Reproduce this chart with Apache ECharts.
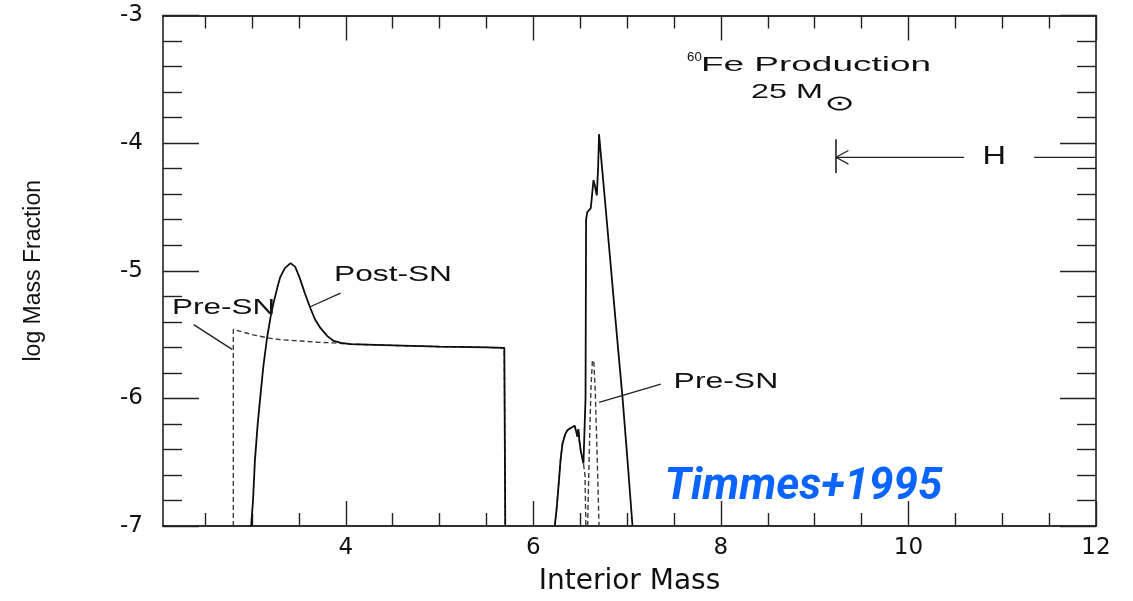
<!DOCTYPE html>
<html>
<head>
<meta charset="utf-8">
<title>60Fe Production, 25 Msun</title>
<script src="https://cdn.jsdelivr.net/npm/echarts@6/dist/echarts.min.js"></script>
<style>
  html, body { margin: 0; padding: 0; background: #ffffff; }
  #chart { width: 1133px; height: 601px; }
</style>
</head>
<body>
<div id="chart"></div>
<script>
// ---- Data: log mass fraction of 60Fe versus interior mass ----

// Post-SN profile (solid), inner shell region
const postSN_inner = [
  [2.99, -7.0], [3.01, -6.8], [3.03, -6.49], [3.06, -6.2], [3.09, -5.97],
  [3.12, -5.75], [3.16, -5.525], [3.20, -5.35], [3.23, -5.25], [3.27, -5.13],
  [3.30, -5.05], [3.35, -4.98], [3.41, -4.94], [3.46, -4.97], [3.51, -5.06],
  [3.56, -5.17], [3.62, -5.29], [3.67, -5.38], [3.73, -5.45], [3.80, -5.51],
  [3.87, -5.55], [3.95, -5.565], [4.05, -5.575], [4.5, -5.585], [5.0, -5.595],
  [5.5, -5.60], [5.69, -5.605], [5.70, -7.0]
];

// Post-SN profile (solid), outer shell region
const postSN_outer = [
  [6.228, -7.0], [6.25, -6.85], [6.273, -6.64], [6.29, -6.48], [6.31, -6.356],
  [6.34, -6.28], [6.363, -6.25], [6.39, -6.235], [6.416, -6.225], [6.44, -6.215],
  [6.451, -6.212], [6.46, -6.27], [6.47, -6.30], [6.48, -6.24], [6.49, -6.33],
  [6.504, -6.407], [6.534, -6.511], [6.55, -6.52], [6.556, -6.0], [6.562, -4.6],
  [6.575, -4.54], [6.612, -4.51], [6.641, -4.29], [6.655, -4.33], [6.676, -4.41],
  [6.69, -4.2], [6.70, -3.93], [6.76, -4.42], [6.82, -4.92], [6.88, -5.42],
  [6.95, -5.99], [7.00, -6.45], [7.057, -7.0]
];

// Pre-SN profile (dashed), inner shell region
const preSN_inner = [
  [2.80, -7.0], [2.80, -5.46], [2.9, -5.48], [3.0, -5.50], [3.16, -5.525],
  [3.3, -5.54], [3.52, -5.55], [3.7, -5.56], [3.87, -5.565], [4.05, -5.575],
  [4.5, -5.585], [5.0, -5.595], [5.5, -5.60], [5.69, -5.605], [5.70, -7.0]
];

// Pre-SN profile (dashed), outer shell region: shoulder, then a narrow peak
const preSN_outerShoulder = [
  [6.228, -7.0], [6.25, -6.85], [6.273, -6.64], [6.29, -6.48], [6.31, -6.356],
  [6.34, -6.28], [6.363, -6.25], [6.39, -6.235], [6.416, -6.225], [6.44, -6.215],
  [6.451, -6.212], [6.46, -6.27], [6.47, -6.30], [6.48, -6.24], [6.49, -6.33],
  [6.504, -6.407], [6.534, -6.511], [6.55, -6.6], [6.56, -7.0]
];
const preSN_outerPeak = [
  [6.578, -7.0], [6.60, -6.3], [6.615, -5.9], [6.63, -5.70], [6.645, -5.72],
  [6.66, -5.95], [6.68, -6.45], [6.70, -7.0]
];

// Axis ticks and labels
const xMajorTicks = [4, 6, 8, 10, 12];
const xMinorTicks = [2.5, 3, 3.5, 4.5, 5, 5.5, 6.5, 7, 7.5, 8.5, 9, 9.5, 10.5, 11, 11.5];
const yTickLabels = [-7, -6, -5, -4, -3];

// Annotation leader lines and the hydrogen-shell marker, in data units
const leaderPostSN = [[3.943, -5.175], [3.615, -5.284]];
const leaderPreSNLeft = [[2.377, -5.422], [2.787, -5.616]];
const leaderPreSNRight = [[7.359, -5.889], [6.700, -6.031]];
const hShellBar = [[9.227, -3.97], [9.227, -4.235]];
const hShellArrow = [[10.594, -4.111], [9.227, -4.111]];
const hShellArrowHead = [[9.36, -4.058], [9.227, -4.111], [9.36, -4.164]];
const hShellTail = [[11.34, -4.111], [12.0, -4.111]];

// ---- Chart ----
const X_MIN = 2.05, X_MAX = 12;
const Y_MIN = yTickLabels[0], Y_MAX = yTickLabels[yTickLabels.length - 1];
const AXIS_COLOR = '#222222';
const TEXT_COLOR = '#111111';

const chart = echarts.init(document.getElementById('chart'), null, { renderer: 'canvas' });

function xAxisDef(position, ticks, tickLen, withLabels) {
  return {
    type: 'value', min: X_MIN, max: X_MAX, position: position,
    axisLine: { show: true, onZero: false, lineStyle: { color: AXIS_COLOR, width: 1.6 } },
    axisTick: { show: true, inside: true, length: tickLen, customValues: ticks,
                lineStyle: { color: AXIS_COLOR, width: 1.4 } },
    axisLabel: withLabels ? {
      show: true, customValues: xMajorTicks, margin: 11,
      fontFamily: 'DejaVu Sans', fontSize: 23, color: TEXT_COLOR
    } : { show: false },
    splitLine: { show: false },
    minorTick: { show: false }
  };
}

function yAxisDef(position, withLabels) {
  return {
    type: 'value', min: Y_MIN, max: Y_MAX, interval: 1, position: position,
    axisLine: { show: true, onZero: false, lineStyle: { color: AXIS_COLOR, width: 1.6 } },
    axisTick: { show: true, inside: true, length: 36, lineStyle: { color: AXIS_COLOR, width: 1.4 } },
    minorTick: { show: true, splitNumber: 5, length: 19, lineStyle: { color: AXIS_COLOR, width: 1.4 } },
    axisLabel: withLabels ? {
      show: true, margin: 20, fontFamily: 'DejaVu Sans', fontSize: 23, color: TEXT_COLOR
    } : { show: false },
    splitLine: { show: false }
  };
}

const xAxes = [
  Object.assign(xAxisDef('bottom', xMajorTicks, 25, true), {
    name: 'Interior Mass', nameLocation: 'middle', nameGap: 42,
    nameTextStyle: { fontFamily: 'DejaVu Sans', fontSize: 28, color: TEXT_COLOR }
  }),
  xAxisDef('bottom', xMinorTicks, 13, false),
  xAxisDef('top', xMajorTicks, 25, false),
  xAxisDef('top', xMinorTicks, 13, false)
];

const yAxes = [
  Object.assign(yAxisDef('left', true), {
    name: 'log Mass Fraction', nameLocation: 'middle', nameGap: 118, nameRotate: 90,
    nameTextStyle: { fontFamily: 'Liberation Sans', fontSize: 23, color: TEXT_COLOR }
  }),
  yAxisDef('right', false)
];

function curve(name, data, style) {
  return {
    name: name, type: 'line', xAxisIndex: 0, yAxisIndex: 0,
    data: data, showSymbol: false, symbol: 'none', smooth: false,
    clip: true, silent: true, lineStyle: style, z: 3
  };
}

const preStyle = { color: '#3a3a3a', width: 1.4, type: [5, 3] };
const postStyle = { color: '#0d0d0d', width: 1.8, type: 'solid' };
const thinStyle = { color: '#222', width: 1.3, type: 'solid' };

const series = [
  curve('Pre-SN', preSN_inner, preStyle),
  curve('Pre-SN', preSN_outerShoulder, preStyle),
  curve('Pre-SN', preSN_outerPeak, preStyle),
  curve('Post-SN', postSN_inner, postStyle),
  curve('Post-SN', postSN_outer, postStyle),
  curve('leader', leaderPostSN, thinStyle),
  curve('leader', leaderPreSNLeft, thinStyle),
  curve('leader', leaderPreSNRight, thinStyle),
  curve('H shell', hShellBar, { color: '#222', width: 1.6 }),
  curve('H shell', hShellArrow, thinStyle),
  curve('H shell', hShellArrowHead, thinStyle),
  curve('H shell', hShellTail, thinStyle)
];

chart.setOption({
  animation: false,
  backgroundColor: '#ffffff',
  grid: { left: 163, right: 37, top: 15.5, bottom: 71.5, containLabel: false },
  xAxis: xAxes,
  yAxis: yAxes,
  series: series
});

// Text annotations placed at data coordinates (scaleX widens the lettering)
const labels = [
  { text: 'Post-SN', at: [4.503, -5.033], font: '22px "Liberation Sans"', sx: 1.44 },
  { text: 'Pre-SN', at: [2.697, -5.292], font: '22px "Liberation Sans"', sx: 1.43 },
  { text: 'Pre-SN', at: [8.053, -5.875], font: '22px "Liberation Sans"', sx: 1.45 },
  { text: '60', at: [7.717, -3.327], font: '12px "Liberation Sans"', sx: 1.1 },
  { text: 'Fe Production', at: [9.014, -3.393], font: '21px "Liberation Sans"', sx: 1.76 },
  { text: '25 M', at: [8.704, -3.599], font: '21px "Liberation Sans"', sx: 1.54 },
  { text: '\u2299', at: [9.265, -3.70], font: '21px "DejaVu Sans"', sx: 1.75 },
  { text: 'H', at: [10.914, -4.111], font: '25px "Liberation Sans"', sx: 1.3 }
];

const graphics = labels.map(function (l) {
  const p = chart.convertToPixel({ xAxisIndex: 0, yAxisIndex: 0 }, l.at);
  return {
    type: 'text', x: p[0], y: p[1], scaleX: l.sx, scaleY: 1, z: 10, silent: true,
    style: { text: l.text, font: l.font, fill: TEXT_COLOR, align: 'center', verticalAlign: 'middle' }
  };
});

// Credit line
const creditPos = chart.convertToPixel({ xAxisIndex: 0, yAxisIndex: 0 }, [8.88, -6.70]);
graphics.push({
  type: 'text', x: creditPos[0], y: creditPos[1], z: 20, silent: true,
  style: {
    text: 'Timmes+1995', fill: '#0a64ff', align: 'center', verticalAlign: 'middle',
    font: 'italic bold 44px Roboto'
  }
});

chart.setOption({ graphic: graphics });
</script>
</body>
</html>
